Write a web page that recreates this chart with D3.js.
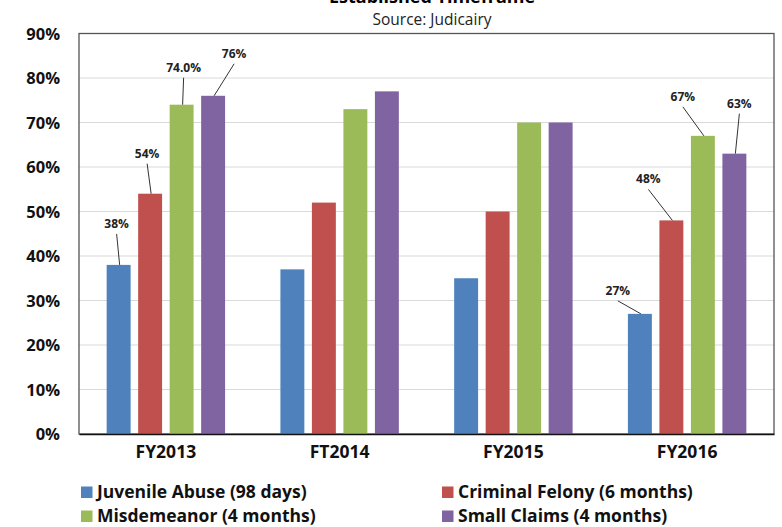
<!DOCTYPE html>
<html>
<head>
<meta charset="utf-8">
<script src="https://cdn.jsdelivr.net/npm/d3@7"></script>
<style>
  html, body { margin: 0; padding: 0; background: #fff; }
  svg { display: block; font-family: "Open Sans", "Noto Sans", sans-serif; }
</style>
</head>
<body>
<svg id="chart" width="782" height="527"></svg>
<script>
// Fiscal years along the x axis
const years = ["FY2013", "FT2014", "FY2015", "FY2016"];
// Case types (series) and their legend text
const series = [
  "Juvenile Abuse (98 days)",
  "Criminal Felony (6 months)",
  "Misdemeanor (4 months)",
  "Small Claims (4 months)"
];
// Share of cases closed within the timeframe, per year (percent)
const juvenileAbuse  = [38, 37, 35, 27];
const criminalFelony = [54, 52, 50, 48];
const misdemeanor    = [74, 73, 70, 67];
const smallClaims    = [76, 77, 70, 63];
// Value labels shown on the first and last year only (null = none)
const valueLabels = [
  ["38%", null, null, "27%"],
  ["54%", null, null, "48%"],
  ["74.0%", null, null, "67%"],
  ["76%", null, null, "63%"]
];
const yTicks = [0, 10, 20, 30, 40, 50, 60, 70, 80, 90];

const values = [juvenileAbuse, criminalFelony, misdemeanor, smallClaims];
const colors = ["#4F81BD", "#C0504D", "#9BBB59", "#8064A2"];
const FONT = '"Open Sans", "Noto Sans", sans-serif';

// Callout offsets (label centre relative to bar top centre), per series per year
const labelOffsets = [
  [[-2, -37], null, null, [-22, -19]],
  [[-3, -36], null, null, [-23, -37]],
  [[2, -33],  null, null, [-20, -35]],
  [[21, -38], null, null, [5, -46]]
];

const svg = d3.select("#chart");
const plot = { left: 79, right: 774, top: 33.5, bottom: 434 };

const x = d3.scaleBand().domain(years).range([plot.left, plot.right]);
const xs = d3.scaleBand().domain(d3.range(series.length))
  .range([0, x.bandwidth()]).paddingInner(0.24).paddingOuter(0.878);
const y = d3.scaleLinear().domain([0, 90]).range([plot.bottom, plot.top]);

// Titles
svg.append("text").attr("x", 432).attr("y", 3).attr("text-anchor", "middle")
  .style("font-size", "18px").style("font-weight", "700").attr("fill", "#000")
  .text("Established Timeframe");
svg.append("text").attr("x", 432).attr("y", 25).attr("text-anchor", "middle")
  .style("font-size", "15.5px").attr("fill", "#222")
  .text("Source: Judicairy");

// Gridlines
svg.append("g").selectAll("line").data(yTicks.filter(t => t > 0 && t < 90)).join("line")
  .attr("x1", plot.left).attr("x2", plot.right)
  .attr("y1", d => y(d)).attr("y2", d => y(d))
  .attr("stroke", "#d9d9d9").attr("stroke-width", 1.2);

// Plot frame
svg.append("rect").attr("x", plot.left).attr("y", plot.top)
  .attr("width", plot.right - plot.left).attr("height", plot.bottom - plot.top)
  .attr("fill", "none").attr("stroke", "#555").attr("stroke-width", 1.3);

// Bars
const groups = svg.append("g").selectAll("g").data(years).join("g")
  .attr("transform", d => `translate(${x(d)},0)`);
groups.selectAll("rect").data((yr, i) => values.map((v, s) => ({ s, v: v[i] }))).join("rect")
  .attr("x", d => xs(d.s)).attr("width", xs.bandwidth())
  .attr("y", d => y(d.v)).attr("height", d => y(0) - y(d.v))
  .attr("fill", d => colors[d.s]);

// Y axis
const yAxis = d3.axisLeft(y).tickValues(yTicks).tickFormat(d => d + "%").tickSize(0).tickPadding(19);
const ya = svg.append("g").attr("transform", `translate(${plot.left},0)`).call(yAxis)
  .attr("font-family", FONT);
ya.select(".domain").remove();
ya.selectAll("text").style("font-size", "16.5px").style("font-weight", "700")
  .attr("fill", "#111").attr("dy", "0.36em");

// X axis
const xAxis = d3.axisBottom(x).tickSize(0).tickPadding(12);
const xa = svg.append("g").attr("transform", `translate(0,${plot.bottom})`).call(xAxis)
  .attr("font-family", FONT);
xa.select(".domain").attr("stroke", "#111").attr("stroke-width", 1.5);
xa.selectAll("text").style("font-size", "17.5px").style("font-weight", "700").attr("fill", "#111");

// Value callouts with leader lines
const callouts = [];
values.forEach((vals, s) => vals.forEach((v, i) => {
  if (valueLabels[s][i]) {
    const cx = x(years[i]) + xs(s) + xs.bandwidth() / 2;
    const top = y(v);
    const [dx, dy] = labelOffsets[s][i];
    callouts.push({ text: valueLabels[s][i], cx, top, lx: cx + dx, ly: top + dy });
  }
}));
const cg = svg.append("g");
cg.selectAll("line").data(callouts).join("line")
  .attr("x1", d => d.lx).attr("y1", d => d.ly + 6)
  .attr("x2", d => d.cx + 1).attr("y2", d => d.top)
  .attr("stroke", "#333").attr("stroke-width", 1);
cg.selectAll("text").data(callouts).join("text")
  .attr("x", d => d.lx).attr("y", d => d.ly).attr("text-anchor", "middle")
  .style("font-size", "12px").style("font-weight", "700").attr("fill", "#222")
  .text(d => d.text);

// Legend
const legendPos = [[81, 498], [442, 498], [81, 522], [442, 522]];
const lg = svg.append("g").selectAll("g").data(series).join("g")
  .attr("transform", (d, i) => `translate(${legendPos[i][0]},${legendPos[i][1]})`);
lg.append("rect").attr("x", 0).attr("y", -11.5).attr("width", 11.5).attr("height", 11.5)
  .attr("fill", (d, i) => colors[i]);
lg.append("text").attr("x", 16).attr("y", 0)
  .style("font-size", "17.5px").style("font-weight", "700").attr("fill", "#111")
  .text(d => d);
</script>
</body>
</html>
